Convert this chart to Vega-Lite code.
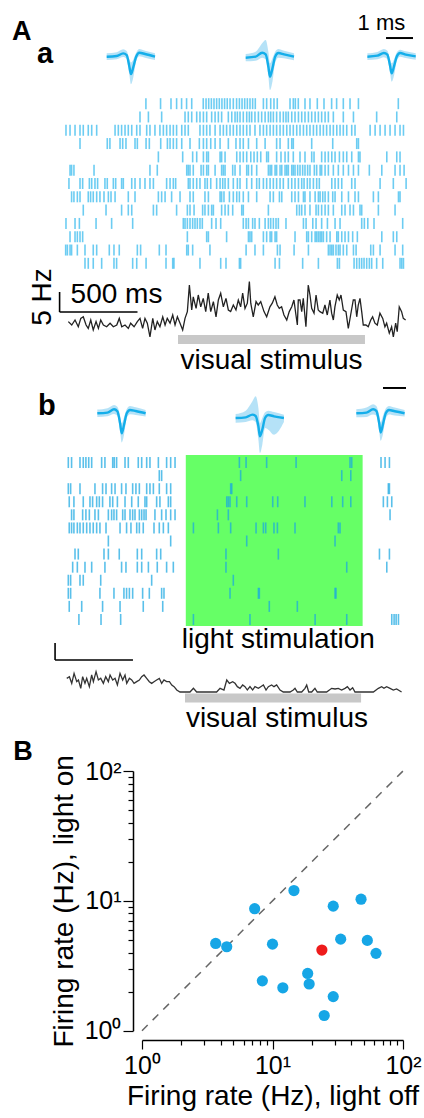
{
"$schema":"https://vega.github.io/schema/vega-lite/v6.json",
"width":424,"height":1118,"padding":0,"autosize":{"type":"none"},
"config":{"view":{"stroke":null},"font":"Liberation Sans"},
"datasets":{
"spA":[
{"r":1,"t":-206},{"r":1,"t":-112},{"r":1,"t":-45},{"r":1,"t":-9},{"r":1,"t":23},{"r":1,"t":55},{"r":1,"t":88},{"r":1,"t":162},{"r":1,"t":180},{"r":1,"t":197},{"r":1,"t":214},{"r":1,"t":231},{"r":1,"t":248},{"r":1,"t":265},{"r":1,"t":282},{"r":1,"t":299},{"r":1,"t":316},{"r":1,"t":334},{"r":1,"t":355},{"r":1,"t":376},{"r":1,"t":394},{"r":1,"t":411},{"r":1,"t":428},{"r":1,"t":445},{"r":1,"t":462},{"r":1,"t":479},{"r":1,"t":496},{"r":1,"t":548},{"r":1,"t":569},{"r":1,"t":595},{"r":1,"t":616},{"r":1,"t":637},{"r":1,"t":719},{"r":1,"t":740},{"r":1,"t":753},{"r":1,"t":772},{"r":1,"t":815},{"r":1,"t":847},{"r":1,"t":894},{"r":1,"t":937},{"r":1,"t":986},{"r":1,"t":1018},{"r":1,"t":1061},{"r":1,"t":1104},{"r":1,"t":1158},{"r":1,"t":1414},
{"r":2,"t":-244},{"r":2,"t":-190},{"r":2,"t":-105},{"r":2,"t":45},{"r":2,"t":66},{"r":2,"t":88},{"r":2,"t":120},{"r":2,"t":141},{"r":2,"t":163},{"r":2,"t":184},{"r":2,"t":216},{"r":2,"t":238},{"r":2,"t":259},{"r":2,"t":280},{"r":2,"t":323},{"r":2,"t":345},{"r":2,"t":366},{"r":2,"t":381},{"r":2,"t":398},{"r":2,"t":419},{"r":2,"t":441},{"r":2,"t":458},{"r":2,"t":473},{"r":2,"t":494},{"r":2,"t":516},{"r":2,"t":537},{"r":2,"t":559},{"r":2,"t":580},{"r":2,"t":595},{"r":2,"t":612},{"r":2,"t":633},{"r":2,"t":655},{"r":2,"t":676},{"r":2,"t":693},{"r":2,"t":708},{"r":2,"t":730},{"r":2,"t":751},{"r":2,"t":773},{"r":2,"t":794},{"r":2,"t":815},{"r":2,"t":837},{"r":2,"t":858},{"r":2,"t":880},{"r":2,"t":901},{"r":2,"t":922},{"r":2,"t":944},{"r":2,"t":965},{"r":2,"t":997},{"r":2,"t":1061},{"r":2,"t":1126},{"r":2,"t":1275},{"r":2,"t":1404},
{"r":3,"t":-719},{"r":3,"t":-693},{"r":3,"t":-661},{"r":3,"t":-629},{"r":3,"t":-608},{"r":3,"t":-576},{"r":3,"t":-554},{"r":3,"t":-522},{"r":3,"t":-404},{"r":3,"t":-383},{"r":3,"t":-362},{"r":3,"t":-340},{"r":3,"t":-319},{"r":3,"t":-297},{"r":3,"t":-265},{"r":3,"t":-244},{"r":3,"t":-201},{"r":3,"t":-180},{"r":3,"t":-148},{"r":3,"t":-116},{"r":3,"t":-94},{"r":3,"t":-73},{"r":3,"t":-51},{"r":3,"t":-30},{"r":3,"t":-9},{"r":3,"t":24},{"r":3,"t":45},{"r":3,"t":66},{"r":3,"t":141},{"r":3,"t":163},{"r":3,"t":184},{"r":3,"t":205},{"r":3,"t":238},{"r":3,"t":270},{"r":3,"t":291},{"r":3,"t":312},{"r":3,"t":334},{"r":3,"t":355},{"r":3,"t":377},{"r":3,"t":398},{"r":3,"t":419},{"r":3,"t":441},{"r":3,"t":462},{"r":3,"t":494},{"r":3,"t":526},{"r":3,"t":548},{"r":3,"t":569},{"r":3,"t":591},{"r":3,"t":612},{"r":3,"t":633},{"r":3,"t":655},{"r":3,"t":676},{"r":3,"t":698},{"r":3,"t":719},{"r":3,"t":740},{"r":3,"t":762},{"r":3,"t":783},{"r":3,"t":805},{"r":3,"t":826},{"r":3,"t":847},{"r":3,"t":869},{"r":3,"t":890},{"r":3,"t":912},{"r":3,"t":933},{"r":3,"t":954},{"r":3,"t":976},{"r":3,"t":997},{"r":3,"t":1019},{"r":3,"t":1040},{"r":3,"t":1061},{"r":3,"t":1083},{"r":3,"t":1115},{"r":3,"t":1136},{"r":3,"t":1233},{"r":3,"t":1265},{"r":3,"t":1297},{"r":3,"t":1329},{"r":3,"t":1361},{"r":3,"t":1393},{"r":3,"t":1425},{"r":3,"t":1447},
{"r":4,"t":-629},{"r":4,"t":-454},{"r":4,"t":-437},{"r":4,"t":-372},{"r":4,"t":-355},{"r":4,"t":-334},{"r":4,"t":-276},{"r":4,"t":-261},{"r":4,"t":-205},{"r":4,"t":-184},{"r":4,"t":-111},{"r":4,"t":-68},{"r":4,"t":-51},{"r":4,"t":-30},{"r":4,"t":-9},{"r":4,"t":24},{"r":4,"t":77},{"r":4,"t":137},{"r":4,"t":163},{"r":4,"t":184},{"r":4,"t":210},{"r":4,"t":238},{"r":4,"t":270},{"r":4,"t":323},{"r":4,"t":372},{"r":4,"t":398},{"r":4,"t":419},{"r":4,"t":452},{"r":4,"t":505},{"r":4,"t":559},{"r":4,"t":633},{"r":4,"t":655},{"r":4,"t":708},{"r":4,"t":730},{"r":4,"t":740},{"r":4,"t":858},{"r":4,"t":993},{"r":4,"t":1147},{"r":4,"t":1158},
{"r":5,"t":-126},{"r":5,"t":30},{"r":5,"t":94},{"r":5,"t":120},{"r":5,"t":163},{"r":5,"t":184},{"r":5,"t":195},{"r":5,"t":270},{"r":5,"t":280},{"r":5,"t":302},{"r":5,"t":377},{"r":5,"t":398},{"r":5,"t":419},{"r":5,"t":441},{"r":5,"t":467},{"r":5,"t":488},{"r":5,"t":509},{"r":5,"t":531},{"r":5,"t":569},{"r":5,"t":580},{"r":5,"t":633},{"r":5,"t":661},{"r":5,"t":687},{"r":5,"t":708},{"r":5,"t":740},{"r":5,"t":783},{"r":5,"t":815},{"r":5,"t":858},{"r":5,"t":873},{"r":5,"t":922},{"r":5,"t":944},{"r":5,"t":965},{"r":5,"t":987},{"r":5,"t":1008},{"r":5,"t":1036},{"r":5,"t":1061},{"r":5,"t":1083},{"r":5,"t":1115},{"r":5,"t":1158},{"r":5,"t":1168},{"r":5,"t":1340},{"r":5,"t":1404},{"r":5,"t":1425},
{"r":6,"t":-693},{"r":6,"t":-683},{"r":6,"t":-668},{"r":6,"t":-539},{"r":6,"t":-180},{"r":6,"t":-133},{"r":6,"t":56},{"r":6,"t":66},{"r":6,"t":77},{"r":6,"t":98},{"r":6,"t":148},{"r":6,"t":163},{"r":6,"t":184},{"r":6,"t":195},{"r":6,"t":238},{"r":6,"t":280},{"r":6,"t":291},{"r":6,"t":302},{"r":6,"t":351},{"r":6,"t":366},{"r":6,"t":398},{"r":6,"t":441},{"r":6,"t":452},{"r":6,"t":473},{"r":6,"t":505},{"r":6,"t":580},{"r":6,"t":591},{"r":6,"t":601},{"r":6,"t":623},{"r":6,"t":633},{"r":6,"t":655},{"r":6,"t":666},{"r":6,"t":687},{"r":6,"t":698},{"r":6,"t":708},{"r":6,"t":730},{"r":6,"t":740},{"r":6,"t":751},{"r":6,"t":768},{"r":6,"t":783},{"r":6,"t":800},{"r":6,"t":815},{"r":6,"t":832},{"r":6,"t":847},{"r":6,"t":875},{"r":6,"t":890},{"r":6,"t":912},{"r":6,"t":922},{"r":6,"t":944},{"r":6,"t":965},{"r":6,"t":997},{"r":6,"t":1029},{"r":6,"t":1061},{"r":6,"t":1094},{"r":6,"t":1126},{"r":6,"t":1158},{"r":6,"t":1228},{"r":6,"t":1308},{"r":6,"t":1393},{"r":6,"t":1425},{"r":6,"t":1451},
{"r":7,"t":-700},{"r":7,"t":-629},{"r":7,"t":-612},{"r":7,"t":-569},{"r":7,"t":-554},{"r":7,"t":-533},{"r":7,"t":-516},{"r":7,"t":-469},{"r":7,"t":-454},{"r":7,"t":-415},{"r":7,"t":-400},{"r":7,"t":-362},{"r":7,"t":-351},{"r":7,"t":-297},{"r":7,"t":-276},{"r":7,"t":-244},{"r":7,"t":-212},{"r":7,"t":-180},{"r":7,"t":-158},{"r":7,"t":-73},{"r":7,"t":-51},{"r":7,"t":-30},{"r":7,"t":-15},{"r":7,"t":66},{"r":7,"t":77},{"r":7,"t":98},{"r":7,"t":120},{"r":7,"t":141},{"r":7,"t":173},{"r":7,"t":188},{"r":7,"t":210},{"r":7,"t":248},{"r":7,"t":270},{"r":7,"t":287},{"r":7,"t":302},{"r":7,"t":323},{"r":7,"t":355},{"r":7,"t":381},{"r":7,"t":398},{"r":7,"t":441},{"r":7,"t":473},{"r":7,"t":505},{"r":7,"t":522},{"r":7,"t":548},{"r":7,"t":569},{"r":7,"t":591},{"r":7,"t":612},{"r":7,"t":633},{"r":7,"t":655},{"r":7,"t":676},{"r":7,"t":708},{"r":7,"t":730},{"r":7,"t":751},{"r":7,"t":773},{"r":7,"t":794},{"r":7,"t":809},{"r":7,"t":830},{"r":7,"t":847},{"r":7,"t":869},{"r":7,"t":890},{"r":7,"t":907},{"r":7,"t":987},{"r":7,"t":1008},{"r":7,"t":1029},{"r":7,"t":1051},{"r":7,"t":1115},{"r":7,"t":1136},{"r":7,"t":1297},{"r":7,"t":1382},{"r":7,"t":1464},
{"r":8,"t":-683},{"r":8,"t":-668},{"r":8,"t":-646},{"r":8,"t":-629},{"r":8,"t":-576},{"r":8,"t":-561},{"r":8,"t":-544},{"r":8,"t":-522},{"r":8,"t":-501},{"r":8,"t":-475},{"r":8,"t":-447},{"r":8,"t":-430},{"r":8,"t":-404},{"r":8,"t":-319},{"r":8,"t":-276},{"r":8,"t":-126},{"r":8,"t":-105},{"r":8,"t":-83},{"r":8,"t":-41},{"r":8,"t":13},{"r":8,"t":77},{"r":8,"t":98},{"r":8,"t":173},{"r":8,"t":195},{"r":8,"t":270},{"r":8,"t":280},{"r":8,"t":295},{"r":8,"t":330},{"r":8,"t":355},{"r":8,"t":377},{"r":8,"t":394},{"r":8,"t":419},{"r":8,"t":452},{"r":8,"t":505},{"r":8,"t":591},{"r":8,"t":612},{"r":8,"t":651},{"r":8,"t":666},{"r":8,"t":730},{"r":8,"t":751},{"r":8,"t":773},{"r":8,"t":805},{"r":8,"t":815},{"r":8,"t":847},{"r":8,"t":880},{"r":8,"t":901},{"r":8,"t":912},{"r":8,"t":929},{"r":8,"t":944},{"r":8,"t":965},{"r":8,"t":993},{"r":8,"t":1008},{"r":8,"t":1051},{"r":8,"t":1094},{"r":8,"t":1136},{"r":8,"t":1158},{"r":8,"t":1254},{"r":8,"t":1286},{"r":8,"t":1415},{"r":8,"t":1425},
{"r":9,"t":-608},{"r":9,"t":-462},{"r":9,"t":-362},{"r":9,"t":-319},{"r":9,"t":-297},{"r":9,"t":-158},{"r":9,"t":-137},{"r":9,"t":-9},{"r":9,"t":60},{"r":9,"t":77},{"r":9,"t":103},{"r":9,"t":158},{"r":9,"t":173},{"r":9,"t":195},{"r":9,"t":216},{"r":9,"t":227},{"r":9,"t":280},{"r":9,"t":302},{"r":9,"t":323},{"r":9,"t":351},{"r":9,"t":409},{"r":9,"t":419},{"r":9,"t":580},{"r":9,"t":762},{"r":9,"t":779},{"r":9,"t":794},{"r":9,"t":815},{"r":9,"t":847},{"r":9,"t":886},{"r":9,"t":901},{"r":9,"t":922},{"r":9,"t":944},{"r":9,"t":965},{"r":9,"t":997},{"r":9,"t":1051},{"r":9,"t":1072},{"r":9,"t":1104},{"r":9,"t":1126},{"r":9,"t":1168},{"r":9,"t":1179},{"r":9,"t":1286},{"r":9,"t":1393},
{"r":10,"t":-719},{"r":10,"t":-661},{"r":10,"t":-633},{"r":10,"t":-526},{"r":10,"t":-426},{"r":10,"t":-291},{"r":10,"t":34},{"r":10,"t":45},{"r":10,"t":60},{"r":10,"t":77},{"r":10,"t":94},{"r":10,"t":109},{"r":10,"t":124},{"r":10,"t":141},{"r":10,"t":156},{"r":10,"t":216},{"r":10,"t":244},{"r":10,"t":274},{"r":10,"t":419},{"r":10,"t":437},{"r":10,"t":452},{"r":10,"t":479},{"r":10,"t":494},{"r":10,"t":522},{"r":10,"t":559},{"r":10,"t":580},{"r":10,"t":595},{"r":10,"t":612},{"r":10,"t":629},{"r":10,"t":644},{"r":10,"t":693},{"r":10,"t":805},{"r":10,"t":822},{"r":10,"t":865},{"r":10,"t":886},{"r":10,"t":922},{"r":10,"t":959},{"r":10,"t":1008},{"r":10,"t":1040},{"r":10,"t":1179},{"r":10,"t":1196},{"r":10,"t":1218},{"r":10,"t":1258},{"r":10,"t":1442},
{"r":11,"t":-693},{"r":11,"t":-661},{"r":11,"t":-646},{"r":11,"t":-629},{"r":11,"t":-612},{"r":11,"t":60},{"r":11,"t":184},{"r":11,"t":195},{"r":11,"t":312},{"r":11,"t":452},{"r":11,"t":462},{"r":11,"t":473},{"r":11,"t":548},{"r":11,"t":569},{"r":11,"t":591},{"r":11,"t":601},{"r":11,"t":623},{"r":11,"t":633},{"r":11,"t":751},{"r":11,"t":826},{"r":11,"t":837},{"r":11,"t":858},{"r":11,"t":880},{"r":11,"t":890},{"r":11,"t":901},{"r":11,"t":912},{"r":11,"t":922},{"r":11,"t":933},{"r":11,"t":954},{"r":11,"t":976},{"r":11,"t":1019},{"r":11,"t":1029},{"r":11,"t":1051},{"r":11,"t":1072},{"r":11,"t":1094},{"r":11,"t":1121},{"r":11,"t":1151},{"r":11,"t":1308},{"r":11,"t":1382},{"r":11,"t":1404},
{"r":12,"t":-721},{"r":12,"t":-710},{"r":12,"t":-693},{"r":12,"t":-683},{"r":12,"t":-646},{"r":12,"t":-597},{"r":12,"t":-544},{"r":12,"t":-522},{"r":12,"t":-441},{"r":12,"t":-411},{"r":12,"t":-377},{"r":12,"t":-261},{"r":12,"t":-240},{"r":12,"t":-120},{"r":12,"t":-77},{"r":12,"t":56},{"r":12,"t":66},{"r":12,"t":94},{"r":12,"t":205},{"r":12,"t":437},{"r":12,"t":494},{"r":12,"t":548},{"r":12,"t":638},{"r":12,"t":655},{"r":12,"t":745},{"r":12,"t":837},{"r":12,"t":965},{"r":12,"t":976},{"r":12,"t":987},{"r":12,"t":997},{"r":12,"t":1014},{"r":12,"t":1029},{"r":12,"t":1040},{"r":12,"t":1061},{"r":12,"t":1083},{"r":12,"t":1126},{"r":12,"t":1143},{"r":12,"t":1237},{"r":12,"t":1254},{"r":12,"t":1297},{"r":12,"t":1393},{"r":12,"t":1442},
{"r":13,"t":-597},{"r":13,"t":-576},{"r":13,"t":-544},{"r":13,"t":-490},{"r":13,"t":-411},{"r":13,"t":-394},{"r":13,"t":-291},{"r":13,"t":-265},{"r":13,"t":-205},{"r":13,"t":-77},{"r":13,"t":-34},{"r":13,"t":-26},{"r":13,"t":141},{"r":13,"t":274},{"r":13,"t":308},{"r":13,"t":394},{"r":13,"t":402},{"r":13,"t":623},{"r":13,"t":651},{"r":13,"t":800},{"r":13,"t":901},{"r":13,"t":1023},{"r":13,"t":1036},{"r":13,"t":1130},{"r":13,"t":1147},{"r":13,"t":1164},{"r":13,"t":1179},{"r":13,"t":1194},{"r":13,"t":1211},{"r":13,"t":1228},{"r":13,"t":1243},{"r":13,"t":1275},{"r":13,"t":1314},{"r":13,"t":1425},{"r":13,"t":1436},{"r":13,"t":1447}
],
"spB":[
{"r":1,"t":-749},{"r":1,"t":-728},{"r":1,"t":-674},{"r":1,"t":-653},{"r":1,"t":-636},{"r":1,"t":-618},{"r":1,"t":-599},{"r":1,"t":-535},{"r":1,"t":-514},{"r":1,"t":-464},{"r":1,"t":-454},{"r":1,"t":-439},{"r":1,"t":-385},{"r":1,"t":-364},{"r":1,"t":-300},{"r":1,"t":-278},{"r":1,"t":-246},{"r":1,"t":-225},{"r":1,"t":-171},{"r":1,"t":-118},{"r":1,"t":-92},{"r":1,"t":-64},{"r":1,"t":349},{"r":1,"t":392},{"r":1,"t":524},{"r":1,"t":713},{"r":1,"t":1059},{"r":1,"t":1070},{"r":1,"t":1258},{"r":1,"t":1284},{"r":1,"t":1312},
{"r":2,"t":-165},{"r":2,"t":-150},{"r":2,"t":357},{"r":2,"t":1006},{"r":2,"t":1064},
{"r":3,"t":-749},{"r":3,"t":-734},{"r":3,"t":-674},{"r":3,"t":-578},{"r":3,"t":-529},{"r":3,"t":-507},{"r":3,"t":-471},{"r":3,"t":-449},{"r":3,"t":-407},{"r":3,"t":-379},{"r":3,"t":-336},{"r":3,"t":-315},{"r":3,"t":-293},{"r":3,"t":-246},{"r":3,"t":-225},{"r":3,"t":-203},{"r":3,"t":-165},{"r":3,"t":-118},{"r":3,"t":-92},{"r":3,"t":293},{"r":3,"t":300},{"r":3,"t":1305},{"r":3,"t":1312},
{"r":4,"t":-743},{"r":4,"t":-713},{"r":4,"t":-653},{"r":4,"t":-610},{"r":4,"t":-593},{"r":4,"t":-567},{"r":4,"t":-550},{"r":4,"t":-529},{"r":4,"t":-482},{"r":4,"t":-464},{"r":4,"t":-434},{"r":4,"t":-385},{"r":4,"t":-342},{"r":4,"t":-300},{"r":4,"t":-257},{"r":4,"t":-246},{"r":4,"t":-182},{"r":4,"t":-161},{"r":4,"t":-107},{"r":4,"t":-92},{"r":4,"t":268},{"r":4,"t":278},{"r":4,"t":289},{"r":4,"t":332},{"r":4,"t":396},{"r":4,"t":563},{"r":4,"t":595},{"r":4,"t":770},{"r":4,"t":942},{"r":4,"t":1012},{"r":4,"t":1064},{"r":4,"t":1273},{"r":4,"t":1299},{"r":4,"t":1327},
{"r":5,"t":-728},{"r":5,"t":-713},{"r":5,"t":-657},{"r":5,"t":-636},{"r":5,"t":-614},{"r":5,"t":-578},{"r":5,"t":-556},{"r":5,"t":-492},{"r":5,"t":-471},{"r":5,"t":-456},{"r":5,"t":-439},{"r":5,"t":-400},{"r":5,"t":-385},{"r":5,"t":-353},{"r":5,"t":-336},{"r":5,"t":-321},{"r":5,"t":-293},{"r":5,"t":-278},{"r":5,"t":-263},{"r":5,"t":-250},{"r":5,"t":-193},{"r":5,"t":-150},{"r":5,"t":-122},{"r":5,"t":-92},{"r":5,"t":-64},{"r":5,"t":208},{"r":5,"t":278},{"r":5,"t":1316},
{"r":6,"t":-743},{"r":6,"t":-728},{"r":6,"t":-713},{"r":6,"t":-691},{"r":6,"t":-674},{"r":6,"t":-653},{"r":6,"t":-631},{"r":6,"t":-610},{"r":6,"t":-589},{"r":6,"t":-567},{"r":6,"t":-546},{"r":6,"t":-507},{"r":6,"t":-417},{"r":6,"t":-375},{"r":6,"t":-347},{"r":6,"t":-310},{"r":6,"t":-293},{"r":6,"t":-268},{"r":6,"t":-199},{"r":6,"t":-165},{"r":6,"t":-139},{"r":6,"t":-107},{"r":6,"t":54},{"r":6,"t":214},{"r":6,"t":293},{"r":6,"t":456},{"r":6,"t":503},{"r":6,"t":518},{"r":6,"t":571},{"r":6,"t":593},{"r":6,"t":706},{"r":6,"t":984},{"r":6,"t":995},
{"r":7,"t":-492},{"r":7,"t":-92},{"r":7,"t":396},{"r":7,"t":963},
{"r":8,"t":-706},{"r":8,"t":-685},{"r":8,"t":-520},{"r":8,"t":-492},{"r":8,"t":-422},{"r":8,"t":-306},{"r":8,"t":-278},{"r":8,"t":-182},{"r":8,"t":-156},{"r":8,"t":263},{"r":8,"t":599},{"r":8,"t":1248},{"r":8,"t":1312},
{"r":9,"t":-721},{"r":9,"t":-691},{"r":9,"t":-642},{"r":9,"t":-599},{"r":9,"t":-514},{"r":9,"t":-407},{"r":9,"t":-379},{"r":9,"t":-306},{"r":9,"t":-278},{"r":9,"t":-235},{"r":9,"t":-178},{"r":9,"t":-118},{"r":9,"t":-75},{"r":9,"t":263},{"r":9,"t":1038},{"r":9,"t":1295},
{"r":10,"t":-749},{"r":10,"t":-734},{"r":10,"t":-674},{"r":10,"t":-653},{"r":10,"t":-541},{"r":10,"t":-214},{"r":10,"t":310},
{"r":11,"t":-749},{"r":11,"t":-734},{"r":11,"t":-546},{"r":11,"t":-456},{"r":11,"t":-392},{"r":11,"t":-375},{"r":11,"t":-357},{"r":11,"t":-336},{"r":11,"t":-272},{"r":11,"t":-229},{"r":11,"t":-150},{"r":11,"t":-135},{"r":11,"t":289},{"r":11,"t":471},{"r":11,"t":477},{"r":11,"t":963},{"r":11,"t":969},
{"r":12,"t":-743},{"r":12,"t":-663},{"r":12,"t":-529},{"r":12,"t":-417},{"r":12,"t":-268},{"r":12,"t":-143},{"r":12,"t":541},{"r":12,"t":721},
{"r":13,"t":-681},{"r":13,"t":-539},{"r":13,"t":-413},{"r":13,"t":54},{"r":13,"t":417},{"r":13,"t":835},{"r":13,"t":1038},{"r":13,"t":1327},{"r":13,"t":1342},{"r":13,"t":1355},{"r":13,"t":1370}
],
"psA":[
{"t":-704,"hz":4.1},{"t":-682,"hz":3.25},{"t":-661,"hz":4.5},{"t":-640,"hz":2.8},{"t":-624,"hz":4.9},{"t":-608,"hz":5.3},{"t":-590,"hz":3.25},{"t":-576,"hz":2.4},{"t":-560,"hz":4.5},{"t":-544,"hz":2.0},{"t":-526,"hz":4.1},{"t":-511,"hz":2.4},{"t":-496,"hz":4.5},{"t":-479,"hz":3.25},{"t":-458,"hz":2.8},{"t":-436,"hz":3.7},{"t":-415,"hz":2.8},{"t":-393,"hz":3.25},{"t":-377,"hz":4.9},{"t":-361,"hz":2.8},{"t":-340,"hz":3.25},{"t":-319,"hz":2.4},{"t":-304,"hz":3.7},{"t":-282,"hz":2.8},{"t":-261,"hz":4.1},{"t":-244,"hz":4.9},{"t":-227,"hz":2.4},{"t":-212,"hz":4.9},{"t":-197,"hz":3.7},{"t":-180,"hz":0.3},{"t":-162,"hz":4.9},{"t":-148,"hz":2.0},{"t":-133,"hz":4.1},{"t":-116,"hz":2.8},{"t":-98,"hz":5.3},{"t":-83,"hz":3.25},{"t":-69,"hz":4.9},{"t":-51,"hz":3.7},{"t":-34,"hz":5.75},{"t":-19,"hz":3.25},{"t":-4,"hz":5.3},{"t":13,"hz":3.7},{"t":30,"hz":2.0},{"t":45,"hz":4.9},{"t":60,"hz":6.6},{"t":73,"hz":13.25},{"t":88,"hz":7.0},{"t":98,"hz":10.3},{"t":116,"hz":7.4},{"t":130,"hz":10.75},{"t":146,"hz":7.8},{"t":162,"hz":9.9},{"t":178,"hz":6.6},{"t":194,"hz":11.2},{"t":210,"hz":6.6},{"t":227,"hz":9.1},{"t":244,"hz":5.3},{"t":259,"hz":9.5},{"t":274,"hz":11.2},{"t":291,"hz":7.8},{"t":308,"hz":9.9},{"t":323,"hz":7.0},{"t":338,"hz":6.6},{"t":355,"hz":8.25},{"t":372,"hz":7.0},{"t":387,"hz":9.5},{"t":402,"hz":7.8},{"t":415,"hz":11.2},{"t":430,"hz":7.4},{"t":445,"hz":8.7},{"t":458,"hz":14.1},
{"t":467,"hz":8.7},{"t":483,"hz":5.3},{"t":501,"hz":9.1},{"t":515,"hz":8.25},{"t":531,"hz":9.1},{"t":552,"hz":6.6},{"t":569,"hz":5.3},{"t":590,"hz":7.8},{"t":605,"hz":8.7},{"t":622,"hz":10.3},{"t":637,"hz":8.25},{"t":650,"hz":7.4},{"t":665,"hz":7.8},{"t":680,"hz":5.75},{"t":698,"hz":4.5},{"t":714,"hz":6.6},{"t":730,"hz":7.8},{"t":744,"hz":9.5},{"t":757,"hz":5.75},{"t":766,"hz":3.25},{"t":772,"hz":9.5},{"t":783,"hz":9.5},{"t":794,"hz":6.6},{"t":804,"hz":9.9},{"t":821,"hz":2.8},{"t":836,"hz":13.25},{"t":847,"hz":10.75},{"t":858,"hz":7.4},{"t":873,"hz":6.2},{"t":886,"hz":10.75},{"t":900,"hz":7.0},{"t":911,"hz":6.6},{"t":929,"hz":6.2},{"t":943,"hz":8.25},{"t":958,"hz":5.75},{"t":975,"hz":9.5},{"t":986,"hz":6.2},{"t":997,"hz":4.5},{"t":1007,"hz":7.8},{"t":1022,"hz":10.75},{"t":1035,"hz":9.5},{"t":1046,"hz":10.75},{"t":1061,"hz":7.0},{"t":1078,"hz":6.6},{"t":1093,"hz":2.4},{"t":1108,"hz":5.75},{"t":1125,"hz":9.5},{"t":1136,"hz":9.5},{"t":1147,"hz":5.3},{"t":1157,"hz":8.25},{"t":1168,"hz":9.9},{"t":1179,"hz":6.6},{"t":1189,"hz":3.25},{"t":1206,"hz":3.25},{"t":1221,"hz":2.8},{"t":1237,"hz":4.5},{"t":1249,"hz":5.3},{"t":1264,"hz":3.7},{"t":1279,"hz":3.25},{"t":1296,"hz":6.2},{"t":1314,"hz":4.9},{"t":1328,"hz":2.8},{"t":1339,"hz":3.7},{"t":1356,"hz":1.2},{"t":1371,"hz":2.8},{"t":1382,"hz":0.3},{"t":1397,"hz":3.7},{"t":1407,"hz":1.6},{"t":1420,"hz":7.8},{"t":1435,"hz":6.6},{"t":1446,"hz":4.9},{"t":1461,"hz":4.5}
],
"psB":[
{"t":-759,"hz":4.1},{"t":-742,"hz":4.6},{"t":-727,"hz":2.6},{"t":-712,"hz":5.6},{"t":-695,"hz":3.1},{"t":-684,"hz":3.6},{"t":-669,"hz":1.1},{"t":-657,"hz":4.6},{"t":-642,"hz":2.6},{"t":-631,"hz":4.1},{"t":-614,"hz":1.6},{"t":-599,"hz":5.1},{"t":-588,"hz":3.1},{"t":-571,"hz":6.1},{"t":-556,"hz":3.6},{"t":-541,"hz":4.1},{"t":-524,"hz":2.6},{"t":-509,"hz":4.6},{"t":-492,"hz":3.1},{"t":-481,"hz":5.1},{"t":-464,"hz":3.6},{"t":-449,"hz":4.1},{"t":-434,"hz":2.1},{"t":-417,"hz":5.6},{"t":-400,"hz":3.6},{"t":-385,"hz":5.1},{"t":-374,"hz":2.6},{"t":-357,"hz":4.1},{"t":-342,"hz":3.6},{"t":-327,"hz":2.6},{"t":-310,"hz":3.1},{"t":-293,"hz":3.6},{"t":-278,"hz":4.6},{"t":-263,"hz":5.1},{"t":-246,"hz":4.1},{"t":-229,"hz":3.1},{"t":-214,"hz":2.6},{"t":-199,"hz":3.1},{"t":-182,"hz":3.6},{"t":-165,"hz":4.1},{"t":-150,"hz":2.6},{"t":-135,"hz":3.6},{"t":-118,"hz":3.1},{"t":-100,"hz":3.1},{"t":-85,"hz":2.1},{"t":-70,"hz":1.6},{"t":-53,"hz":0.6},{"t":-32,"hz":0},{"t":32,"hz":0},{"t":54,"hz":1.1},{"t":75,"hz":0},{"t":203,"hz":0},{"t":225,"hz":1.1},{"t":250,"hz":0.6},{"t":268,"hz":3.6},{"t":285,"hz":2.6},{"t":306,"hz":3.1},{"t":321,"hz":2.6},{"t":336,"hz":1.6},{"t":353,"hz":1.1},{"t":370,"hz":2.1},{"t":385,"hz":1.6},{"t":400,"hz":0.6},{"t":417,"hz":1.6},{"t":434,"hz":0.6},{"t":449,"hz":1.6},{"t":471,"hz":1.1},{"t":486,"hz":1.6},{"t":503,"hz":2.1},{"t":520,"hz":0.6},{"t":535,"hz":1.6},{"t":556,"hz":2.1},{"t":571,"hz":1.6},{"t":588,"hz":2.1},{"t":610,"hz":0.6},{"t":631,"hz":0},{"t":674,"hz":0},{"t":695,"hz":0.6},{"t":706,"hz":1.1},{"t":721,"hz":0},{"t":749,"hz":0},{"t":770,"hz":1.1},{"t":781,"hz":2.1},{"t":794,"hz":0},{"t":813,"hz":0},{"t":834,"hz":1.1},{"t":849,"hz":0},{"t":909,"hz":0},{"t":941,"hz":1.1},{"t":963,"hz":0.9},{"t":984,"hz":1.1},{"t":1005,"hz":0.6},{"t":1027,"hz":1.1},{"t":1042,"hz":1.6},{"t":1059,"hz":0.6},{"t":1076,"hz":1.3},{"t":1091,"hz":0},{"t":1123,"hz":0},{"t":1209,"hz":0},{"t":1241,"hz":1.1},{"t":1262,"hz":1.6},{"t":1277,"hz":1.1},{"t":1294,"hz":1.6},{"t":1316,"hz":1.1},{"t":1337,"hz":0.6},{"t":1358,"hz":0.9},{"t":1390,"hz":0}
],
"wave":[
{"w":"a1","t":-0.9,"v":0,"lo":-20,"hi":20},{"w":"a1","t":-0.53,"v":4,"lo":-16,"hi":26},{"w":"a1","t":-0.29,"v":20,"lo":-2,"hi":44},{"w":"a1","t":-0.16,"v":10,"lo":-14,"hi":34},{"w":"a1","t":-0.06,"v":-60,"lo":-110,"hi":-15},{"w":"a1","t":0,"v":-104,"lo":-165,"hi":-35},{"w":"a1","t":0.09,"v":-60,"lo":-120,"hi":-15},{"w":"a1","t":0.19,"v":0,"lo":-26,"hi":24},{"w":"a1","t":0.31,"v":24,"lo":2,"hi":46},{"w":"a1","t":0.52,"v":16,"lo":-6,"hi":36},{"w":"a1","t":0.89,"v":0,"lo":-20,"hi":20},
{"w":"a2","t":-0.9,"v":-6,"lo":-28,"hi":16},{"w":"a2","t":-0.53,"v":0,"lo":-24,"hi":30},{"w":"a2","t":-0.29,"v":24,"lo":-6,"hi":80},{"w":"a2","t":-0.16,"v":14,"lo":-16,"hi":100},{"w":"a2","t":-0.06,"v":-60,"lo":-120,"hi":30},{"w":"a2","t":0,"v":-120,"lo":-200,"hi":-40},{"w":"a2","t":0.09,"v":-70,"lo":-150,"hi":-10},{"w":"a2","t":0.19,"v":0,"lo":-36,"hi":30},{"w":"a2","t":0.31,"v":22,"lo":-6,"hi":46},{"w":"a2","t":0.52,"v":14,"lo":-10,"hi":36},{"w":"a2","t":0.89,"v":0,"lo":-22,"hi":20},
{"w":"a3","t":-0.9,"v":0,"lo":-20,"hi":20},{"w":"a3","t":-0.53,"v":6,"lo":-16,"hi":28},{"w":"a3","t":-0.29,"v":22,"lo":-4,"hi":46},{"w":"a3","t":-0.16,"v":12,"lo":-14,"hi":36},{"w":"a3","t":-0.06,"v":-55,"lo":-100,"hi":-15},{"w":"a3","t":0,"v":-100,"lo":-150,"hi":-40},{"w":"a3","t":0.09,"v":-55,"lo":-110,"hi":-15},{"w":"a3","t":0.19,"v":2,"lo":-24,"hi":26},{"w":"a3","t":0.31,"v":22,"lo":0,"hi":42},{"w":"a3","t":0.52,"v":12,"lo":-8,"hi":32},{"w":"a3","t":0.89,"v":2,"lo":-18,"hi":20},
{"w":"b1","t":-1.06,"v":0,"lo":-22,"hi":22},{"w":"b1","t":-0.62,"v":4,"lo":-18,"hi":30},{"w":"b1","t":-0.33,"v":24,"lo":-4,"hi":50},{"w":"b1","t":-0.19,"v":12,"lo":-14,"hi":40},{"w":"b1","t":-0.07,"v":-60,"lo":-110,"hi":-15},{"w":"b1","t":0,"v":-120,"lo":-175,"hi":-60},{"w":"b1","t":0.1,"v":-70,"lo":-130,"hi":-25},{"w":"b1","t":0.22,"v":0,"lo":-28,"hi":26},{"w":"b1","t":0.36,"v":20,"lo":-6,"hi":44},{"w":"b1","t":0.61,"v":14,"lo":-10,"hi":36},{"w":"b1","t":1.04,"v":0,"lo":-20,"hi":20},
{"w":"b2","t":-1.06,"v":0,"lo":-28,"hi":24},{"w":"b2","t":-0.62,"v":4,"lo":-24,"hi":44},{"w":"b2","t":-0.33,"v":20,"lo":-14,"hi":100},{"w":"b2","t":-0.19,"v":12,"lo":-24,"hi":130},{"w":"b2","t":-0.07,"v":-50,"lo":-130,"hi":60},{"w":"b2","t":0,"v":-110,"lo":-210,"hi":-30},{"w":"b2","t":0.1,"v":-70,"lo":-160,"hi":0},{"w":"b2","t":0.22,"v":0,"lo":-60,"hi":34},{"w":"b2","t":0.36,"v":18,"lo":-70,"hi":44},{"w":"b2","t":0.61,"v":10,"lo":-100,"hi":36},{"w":"b2","t":1.04,"v":0,"lo":-24,"hi":20},
{"w":"b3","t":-1.06,"v":0,"lo":-24,"hi":24},{"w":"b3","t":-0.62,"v":4,"lo":-22,"hi":34},{"w":"b3","t":-0.33,"v":24,"lo":-8,"hi":54},{"w":"b3","t":-0.19,"v":14,"lo":-14,"hi":44},{"w":"b3","t":-0.07,"v":-55,"lo":-105,"hi":-10},{"w":"b3","t":0,"v":-115,"lo":-165,"hi":-55},{"w":"b3","t":0.1,"v":-65,"lo":-125,"hi":-15},{"w":"b3","t":0.22,"v":0,"lo":-32,"hi":28},{"w":"b3","t":0.36,"v":20,"lo":-8,"hi":44},{"w":"b3","t":0.61,"v":12,"lo":-14,"hi":34},{"w":"b3","t":1.04,"v":0,"lo":-20,"hi":20}
],
"cells":[
{"off":14.6,"on":12.0,"cell":"other"},{"off":7.3,"on":8.7,"cell":"other"},{"off":29.2,"on":9.1,"cell":"other"},{"off":47.7,"on":10.3,"cell":"other"},{"off":3.67,"on":4.7,"cell":"other"},{"off":4.46,"on":4.43,"cell":"other"},{"off":10.0,"on":4.64,"cell":"other"},{"off":33.3,"on":5.07,"cell":"other"},{"off":53.3,"on":4.96,"cell":"other"},{"off":62.1,"on":3.94,"cell":"other"},{"off":8.36,"on":2.42,"cell":"other"},{"off":12.0,"on":2.14,"cell":"other"},{"off":18.6,"on":2.76,"cell":"other"},{"off":19.1,"on":2.29,"cell":"other"},{"off":29.2,"on":1.83,"cell":"other"},{"off":24.9,"on":1.31,"cell":"other"},{"off":23.9,"on":4.18,"cell":"example"}
],
"diag":[{"off":1,"on":1},{"off":100,"on":100}],
"stimA":[{"start":0,"end":1200}],
"stimB":[{"start":0,"end":1130}],
"lightB":[{"start":5,"end":1140}]
},
"resolve":{"scale":{"x":"independent","y":"independent","color":"independent"}},
"layer":[
{"layer":[
 {"data":{"name":"spA"},"mark":{"type":"tick","orient":"vertical","size":11,"thickness":1.6,"color":"#2db6ec","opacity":0.7},
  "encoding":{"x":{"field":"t","type":"quantitative","scale":{"domain":[-1000,1600],"range":[22.2,427.3],"nice":false,"zero":false},"axis":null},
   "y":{"field":"r","type":"quantitative","scale":{"domain":[0.5,13.5],"range":[97,270],"nice":false,"zero":false},"axis":null}}},
 {"data":{"values":[{}]},"mark":{"type":"text","text":"A","fontSize":27,"fontWeight":"bold","align":"left","baseline":"alphabetic","color":"#000"},
  "encoding":{"x":{"datum":-1065,"type":"quantitative","scale":{"domain":[-1000,1600],"range":[22.2,427.3],"nice":false,"zero":false},"axis":null},
   "y":{"datum":-3.78,"type":"quantitative","scale":{"domain":[0.5,13.5],"range":[97,270],"nice":false,"zero":false},"axis":null}}},
 {"data":{"values":[{}]},"mark":{"type":"text","text":"a","fontSize":29,"fontWeight":"bold","align":"left","baseline":"alphabetic","color":"#000"},
  "encoding":{"x":{"datum":-905,"type":"quantitative","scale":{"domain":[-1000,1600],"range":[22.2,427.3],"nice":false,"zero":false},"axis":null},
   "y":{"datum":-2.05,"type":"quantitative","scale":{"domain":[0.5,13.5],"range":[97,270],"nice":false,"zero":false},"axis":null}}}
]},
{"layer":[
 {"data":{"name":"stimA"},"mark":{"type":"rule","color":"#c8c8c8","strokeWidth":9},
  "encoding":{"x":{"field":"start","type":"quantitative","scale":{"domain":[-1000,1600],"range":[22.2,427.3],"nice":false,"zero":false},"axis":null},"x2":{"field":"end"},
   "y":{"datum":-0.4,"type":"quantitative","scale":{"domain":[0,15],"range":[338,278],"nice":false,"zero":false},"axis":null}}},
 {"data":{"name":"psA"},"mark":{"type":"line","color":"#222","strokeWidth":1.3},
  "encoding":{"x":{"field":"t","type":"quantitative","scale":{"domain":[-1000,1600],"range":[22.2,427.3],"nice":false,"zero":false},"axis":null},
   "y":{"field":"hz","type":"quantitative","scale":{"domain":[0,15],"range":[338,278],"nice":false,"zero":false},"axis":null}}},
 {"data":{"values":[{}]},"mark":{"type":"text","text":"visual stimulus","fontSize":28,"align":"center","baseline":"alphabetic","color":"#000"},
  "encoding":{"x":{"datum":600,"type":"quantitative","scale":{"domain":[-1000,1600],"range":[22.2,427.3],"nice":false,"zero":false},"axis":null},
   "y":{"datum":-7.75,"type":"quantitative","scale":{"domain":[0,15],"range":[338,278],"nice":false,"zero":false},"axis":null}}},
 {"data":{"values":[{}]},"mark":{"type":"rule","color":"#000","strokeWidth":1.6},
  "encoding":{"x":{"datum":-760,"type":"quantitative","scale":{"domain":[-1000,1600],"range":[22.2,427.3],"nice":false,"zero":false},"axis":null},
   "y":{"datum":6.5,"type":"quantitative","scale":{"domain":[0,15],"range":[338,278],"nice":false,"zero":false},"axis":null},"y2":{"datum":11.5}}},
 {"data":{"values":[{}]},"mark":{"type":"rule","color":"#000","strokeWidth":1.6},
  "encoding":{"x":{"datum":-760,"type":"quantitative","scale":{"domain":[-1000,1600],"range":[22.2,427.3],"nice":false,"zero":false},"axis":null},"x2":{"datum":-260},
   "y":{"datum":6.5,"type":"quantitative","scale":{"domain":[0,15],"range":[338,278],"nice":false,"zero":false},"axis":null}}},
 {"data":{"values":[{}]},"mark":{"type":"text","text":"500 ms","fontSize":28,"align":"center","baseline":"alphabetic","color":"#000"},
  "encoding":{"x":{"datum":-395,"type":"quantitative","scale":{"domain":[-1000,1600],"range":[22.2,427.3],"nice":false,"zero":false},"axis":null},
   "y":{"datum":8.75,"type":"quantitative","scale":{"domain":[0,15],"range":[338,278],"nice":false,"zero":false},"axis":null}}},
 {"data":{"values":[{}]},"mark":{"type":"text","text":"5 Hz","fontSize":28,"angle":270,"align":"center","baseline":"middle","color":"#000"},
  "encoding":{"x":{"datum":-866,"type":"quantitative","scale":{"domain":[-1000,1600],"range":[22.2,427.3],"nice":false,"zero":false},"axis":null},
   "y":{"datum":10.25,"type":"quantitative","scale":{"domain":[0,15],"range":[338,278],"nice":false,"zero":false},"axis":null}}}
]},
{"data":{"name":"wave"},"transform":[{"filter":"datum.w==='a1'"}],
 "encoding":{"x":{"field":"t","type":"quantitative","scale":{"domain":[-1,1],"range":[104,158],"nice":false,"zero":false},"axis":null},
  "y":{"field":"v","type":"quantitative","scale":{"domain":[-200,120],"range":[90,36.7],"nice":false,"zero":false},"axis":null}},
 "layer":[
  {"mark":{"type":"area","color":"#addff6","opacity":0.9,"interpolate":"monotone"},"encoding":{"y":{"field":"lo","type":"quantitative","scale":{"domain":[-200,120],"range":[90,36.7],"nice":false,"zero":false},"axis":null},"y2":{"field":"hi"}}},
  {"mark":{"type":"line","color":"#14aeea","strokeWidth":2.4,"interpolate":"monotone"}}
 ]},
{"data":{"name":"wave"},"transform":[{"filter":"datum.w==='a2'"}],
 "encoding":{"x":{"field":"t","type":"quantitative","scale":{"domain":[-1,1],"range":[243,297],"nice":false,"zero":false},"axis":null},
  "y":{"field":"v","type":"quantitative","scale":{"domain":[-200,120],"range":[90,36.7],"nice":false,"zero":false},"axis":null}},
 "layer":[
  {"mark":{"type":"area","color":"#addff6","opacity":0.9,"interpolate":"monotone"},"encoding":{"y":{"field":"lo","type":"quantitative","scale":{"domain":[-200,120],"range":[90,36.7],"nice":false,"zero":false},"axis":null},"y2":{"field":"hi"}}},
  {"mark":{"type":"line","color":"#14aeea","strokeWidth":2.4,"interpolate":"monotone"}}
 ]},
{"layer":[
  {"data":{"name":"wave"},"transform":[{"filter":"datum.w==='a3'"}],"mark":{"type":"area","color":"#addff6","opacity":0.9,"interpolate":"monotone"},
   "encoding":{"x":{"field":"t","type":"quantitative","scale":{"domain":[-1,1],"range":[364.7,418.7],"nice":false,"zero":false},"axis":null},
    "y":{"field":"lo","type":"quantitative","scale":{"domain":[-200,120],"range":[90,36.7],"nice":false,"zero":false},"axis":null},"y2":{"field":"hi"}}},
  {"data":{"name":"wave"},"transform":[{"filter":"datum.w==='a3'"}],"mark":{"type":"line","color":"#14aeea","strokeWidth":2.4,"interpolate":"monotone"},
   "encoding":{"x":{"field":"t","type":"quantitative","scale":{"domain":[-1,1],"range":[364.7,418.7],"nice":false,"zero":false},"axis":null},
    "y":{"field":"v","type":"quantitative","scale":{"domain":[-200,120],"range":[90,36.7],"nice":false,"zero":false},"axis":null}}},
  {"data":{"values":[{}]},"mark":{"type":"rule","color":"#000","strokeWidth":2},
   "encoding":{"x":{"datum":-0.21,"type":"quantitative","scale":{"domain":[-1,1],"range":[364.7,418.7],"nice":false,"zero":false},"axis":null},"x2":{"datum":0.79},
    "y":{"datum":112,"type":"quantitative","scale":{"domain":[-200,120],"range":[90,36.7],"nice":false,"zero":false},"axis":null}}},
  {"data":{"values":[{}]},"mark":{"type":"text","text":"1 ms","fontSize":22,"align":"center","baseline":"alphabetic","color":"#000"},
   "encoding":{"x":{"datum":-0.38,"type":"quantitative","scale":{"domain":[-1,1],"range":[364.7,418.7],"nice":false,"zero":false},"axis":null},
    "y":{"datum":163,"type":"quantitative","scale":{"domain":[-200,120],"range":[90,36.7],"nice":false,"zero":false},"axis":null}}}
]},
{"layer":[
 {"data":{"name":"lightB"},"mark":{"type":"rect","color":"#66ff66"},
  "encoding":{"x":{"field":"start","type":"quantitative","scale":{"domain":[-1000,1600],"range":[29.2,434.3],"nice":false,"zero":false},"axis":null},"x2":{"field":"end"},
   "y":{"datum":0.42,"type":"quantitative","scale":{"domain":[0.5,13.5],"range":[456,626],"nice":false,"zero":false},"axis":null},"y2":{"datum":13.5}}},
 {"data":{"name":"spB"},"mark":{"type":"tick","orient":"vertical","size":11,"thickness":1.6,"color":"#1aa8e2","opacity":0.72},
  "encoding":{"x":{"field":"t","type":"quantitative","scale":{"domain":[-1000,1600],"range":[29.2,434.3],"nice":false,"zero":false},"axis":null},
   "y":{"field":"r","type":"quantitative","scale":{"domain":[0.5,13.5],"range":[456,626],"nice":false,"zero":false},"axis":null}}},
 {"data":{"values":[{}]},"mark":{"type":"text","text":"b","fontSize":29,"fontWeight":"bold","align":"left","baseline":"alphabetic","color":"#000"},
  "encoding":{"x":{"datum":-943,"type":"quantitative","scale":{"domain":[-1000,1600],"range":[29.2,434.3],"nice":false,"zero":false},"axis":null},
   "y":{"datum":-2.64,"type":"quantitative","scale":{"domain":[0.5,13.5],"range":[456,626],"nice":false,"zero":false},"axis":null}}},
 {"data":{"values":[{}]},"mark":{"type":"text","text":"light stimulation","fontSize":28,"align":"center","baseline":"alphabetic","color":"#000"},
  "encoding":{"x":{"datum":599,"type":"quantitative","scale":{"domain":[-1000,1600],"range":[29.2,434.3],"nice":false,"zero":false},"axis":null},
   "y":{"datum":15.18,"type":"quantitative","scale":{"domain":[0.5,13.5],"range":[456,626],"nice":false,"zero":false},"axis":null}}}
]},
{"data":{"name":"wave"},"transform":[{"filter":"datum.w==='b1'"}],
 "encoding":{"x":{"field":"t","type":"quantitative","scale":{"domain":[-1,1],"range":[98.7,144.7],"nice":false,"zero":false},"axis":null},
  "y":{"field":"v","type":"quantitative","scale":{"domain":[-200,120],"range":[446.6,393.3],"nice":false,"zero":false},"axis":null}},
 "layer":[
  {"mark":{"type":"area","color":"#addff6","opacity":0.9,"interpolate":"monotone"},"encoding":{"y":{"field":"lo","type":"quantitative","scale":{"domain":[-200,120],"range":[446.6,393.3],"nice":false,"zero":false},"axis":null},"y2":{"field":"hi"}}},
  {"mark":{"type":"line","color":"#14aeea","strokeWidth":2.4,"interpolate":"monotone"}}
 ]},
{"data":{"name":"wave"},"transform":[{"filter":"datum.w==='b2'"}],
 "encoding":{"x":{"field":"t","type":"quantitative","scale":{"domain":[-1,1],"range":[237,283],"nice":false,"zero":false},"axis":null},
  "y":{"field":"v","type":"quantitative","scale":{"domain":[-200,120],"range":[451.3,398],"nice":false,"zero":false},"axis":null}},
 "layer":[
  {"mark":{"type":"area","color":"#addff6","opacity":0.9,"interpolate":"monotone"},"encoding":{"y":{"field":"lo","type":"quantitative","scale":{"domain":[-200,120],"range":[451.3,398],"nice":false,"zero":false},"axis":null},"y2":{"field":"hi"}}},
  {"mark":{"type":"line","color":"#14aeea","strokeWidth":2.4,"interpolate":"monotone"}}
 ]},
{"layer":[
  {"data":{"name":"wave"},"transform":[{"filter":"datum.w==='b3'"}],"mark":{"type":"area","color":"#addff6","opacity":0.9,"interpolate":"monotone"},
   "encoding":{"x":{"field":"t","type":"quantitative","scale":{"domain":[-1,1],"range":[357.7,403.7],"nice":false,"zero":false},"axis":null},
    "y":{"field":"lo","type":"quantitative","scale":{"domain":[-200,120],"range":[446.6,393.3],"nice":false,"zero":false},"axis":null},"y2":{"field":"hi"}}},
  {"data":{"name":"wave"},"transform":[{"filter":"datum.w==='b3'"}],"mark":{"type":"line","color":"#14aeea","strokeWidth":2.4,"interpolate":"monotone"},
   "encoding":{"x":{"field":"t","type":"quantitative","scale":{"domain":[-1,1],"range":[357.7,403.7],"nice":false,"zero":false},"axis":null},
    "y":{"field":"v","type":"quantitative","scale":{"domain":[-200,120],"range":[446.6,393.3],"nice":false,"zero":false},"axis":null}}},
  {"data":{"values":[{}]},"mark":{"type":"rule","color":"#000","strokeWidth":2},
   "encoding":{"x":{"datum":0.1,"type":"quantitative","scale":{"domain":[-1,1],"range":[357.7,403.7],"nice":false,"zero":false},"axis":null},"x2":{"datum":1.1},
    "y":{"datum":152,"type":"quantitative","scale":{"domain":[-200,120],"range":[446.6,393.3],"nice":false,"zero":false},"axis":null}}}
]},
{"layer":[
 {"data":{"name":"stimB"},"mark":{"type":"rule","color":"#c8c8c8","strokeWidth":9},
  "encoding":{"x":{"field":"start","type":"quantitative","scale":{"domain":[-1000,1600],"range":[29.2,434.3],"nice":false,"zero":false},"axis":null},"x2":{"field":"end"},
   "y":{"datum":-1.8,"type":"quantitative","scale":{"domain":[0,15],"range":[692,642],"nice":false,"zero":false},"axis":null}}},
 {"data":{"name":"psB"},"mark":{"type":"line","color":"#333","strokeWidth":1.3},
  "encoding":{"x":{"field":"t","type":"quantitative","scale":{"domain":[-1000,1600],"range":[29.2,434.3],"nice":false,"zero":false},"axis":null},
   "y":{"field":"hz","type":"quantitative","scale":{"domain":[0,15],"range":[692,642],"nice":false,"zero":false},"axis":null}}},
 {"data":{"values":[{}]},"mark":{"type":"text","text":"visual stimulus","fontSize":28,"align":"center","baseline":"alphabetic","color":"#000"},
  "encoding":{"x":{"datum":590,"type":"quantitative","scale":{"domain":[-1000,1600],"range":[29.2,434.3],"nice":false,"zero":false},"axis":null},
   "y":{"datum":-10.5,"type":"quantitative","scale":{"domain":[0,15],"range":[692,642],"nice":false,"zero":false},"axis":null}}},
 {"data":{"values":[{}]},"mark":{"type":"rule","color":"#000","strokeWidth":1.6},
  "encoding":{"x":{"datum":-834,"type":"quantitative","scale":{"domain":[-1000,1600],"range":[29.2,434.3],"nice":false,"zero":false},"axis":null},
   "y":{"datum":9.6,"type":"quantitative","scale":{"domain":[0,15],"range":[692,642],"nice":false,"zero":false},"axis":null},"y2":{"datum":14.7}}},
 {"data":{"values":[{}]},"mark":{"type":"rule","color":"#000","strokeWidth":1.6},
  "encoding":{"x":{"datum":-834,"type":"quantitative","scale":{"domain":[-1000,1600],"range":[29.2,434.3],"nice":false,"zero":false},"axis":null},"x2":{"datum":-334},
   "y":{"datum":9.6,"type":"quantitative","scale":{"domain":[0,15],"range":[692,642],"nice":false,"zero":false},"axis":null}}}
]},
{"encoding":{
  "x":{"field":"off","type":"quantitative","scale":{"type":"log","domain":[1,100],"range":[142,403],"nice":false},
   "axis":{"orient":"bottom","offset":-78,"values":[1,2,3,4,5,6,7,8,9,10,20,30,40,50,60,70,80,90,100],
    "labelExpr":"datum.value==1?'10⁰':datum.value==10?'10¹':datum.value==100?'10²':''",
    "title":"Firing rate (Hz), light off","titleFontSize":28,"titleFontWeight":"normal","titleColor":"#000","titlePadding":4,"titleFont":"Liberation Sans",
    "labelFontSize":25,"labelColor":"#000","labelFont":"Liberation Sans","labelPadding":4,"labelFlush":false,"labelOverlap":false,"labelBound":false,
    "domainColor":"#000","domainWidth":1.5,"tickColor":"#000","tickWidth":1.2,
    "tickSize":{"condition":{"test":"datum.value==1||datum.value==10||datum.value==100","value":9},"value":5},"grid":false}},
  "y":{"field":"on","type":"quantitative","scale":{"type":"log","domain":[1,100],"range":[1030.7,771],"nice":false},
   "axis":{"orient":"left","offset":-133,"values":[1,2,3,4,5,6,7,8,9,10,20,30,40,50,60,70,80,90,100],
    "labelExpr":"datum.value==1?'10⁰':datum.value==10?'10¹':datum.value==100?'10²':''",
    "title":"Firing rate (Hz), light on","titleFontSize":28,"titleFontWeight":"normal","titleColor":"#000","titlePadding":6,"titleFont":"Liberation Sans",
    "labelFontSize":25,"labelColor":"#000","labelFont":"Liberation Sans","labelPadding":2,"labelFlush":false,"labelOverlap":false,"labelBound":false,
    "domainColor":"#000","domainWidth":1.5,"tickColor":"#000","tickWidth":1.2,
    "tickSize":{"condition":{"test":"datum.value==1||datum.value==10||datum.value==100","value":10},"value":5},"grid":false}}},
 "layer":[
  {"data":{"name":"diag"},"mark":{"type":"line","color":"#666","strokeDash":[8,7],"strokeWidth":1.5}},
  {"data":{"name":"cells"},"mark":{"type":"circle","size":125,"opacity":1},
   "encoding":{"color":{"field":"cell","type":"nominal","scale":{"domain":["other","example"],"range":["#16a6e6","#ee1b1b"]},"legend":null}}}
 ]},
{"data":{"values":[{}]},"mark":{"type":"text","text":"B","fontSize":27,"fontWeight":"bold","align":"left","baseline":"alphabetic","color":"#000"},
 "encoding":{"x":{"datum":0.103,"type":"quantitative","scale":{"type":"log","domain":[1,100],"range":[142,403],"nice":false},"axis":null},
  "y":{"datum":121.6,"type":"quantitative","scale":{"type":"log","domain":[1,100],"range":[1030.7,771],"nice":false},"axis":null}}}
]
}
